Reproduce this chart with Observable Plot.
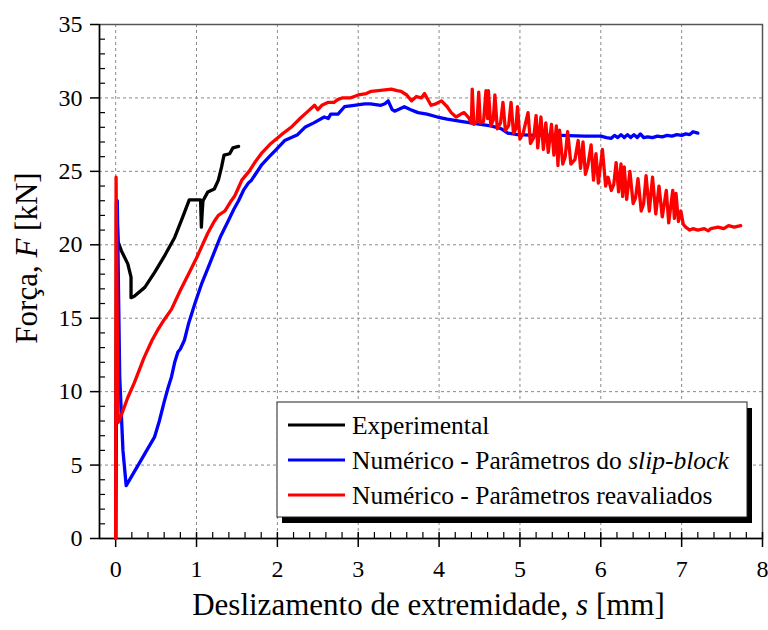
<!DOCTYPE html>
<html>
<head>
<meta charset="utf-8">
<script src="https://cdn.jsdelivr.net/npm/d3@7"></script>
<script src="https://cdn.jsdelivr.net/npm/@observablehq/plot@0.6"></script>
<style>
  html, body { margin: 0; padding: 0; background: white; }
  #chart { width: 768px; height: 630px; }
  #chart svg, #chart svg text { font-family: "Liberation Serif", "DejaVu Serif", "Times New Roman", Times, serif !important; }
</style>
</head>
<body>
<div id="chart"></div>
<script>
// ---- Data ----
const expS = [0, 0.01, 0.03, 0.07, 0.15, 0.19, 0.19, 0.23, 0.36, 0.48, 0.61, 0.73, 0.83, 0.91, 1.0, 1.05, 1.06, 1.07, 1.08, 1.14, 1.22, 1.27, 1.31, 1.34, 1.41, 1.45, 1.52];
const expF = [0, 22.9, 20.2, 19.6, 18.7, 17.8, 16.4, 16.5, 17.1, 18.1, 19.3, 20.5, 21.9, 23.06, 23.06, 23.06, 21.2, 22.2, 23.0, 23.6, 23.8, 24.4, 25.3, 26.1, 26.2, 26.6, 26.7];

const blueS = [0, 0.02, 0.05, 0.09, 0.13, 0.3, 0.48, 0.54, 0.6, 0.65, 0.69, 0.73, 0.77, 0.8, 0.85, 0.9, 0.98, 1.06, 1.14, 1.22, 1.3, 1.39, 1.46, 1.52, 1.58, 1.64, 1.68, 1.8, 1.9, 1.97, 2.09, 2.25, 2.34, 2.45, 2.58, 2.63, 2.66, 2.75, 2.83, 2.95, 3.08, 3.15, 3.28, 3.33, 3.37, 3.42, 3.45, 3.57, 3.65, 3.74, 3.85, 3.98, 4.1, 4.27, 4.45, 4.64, 4.77, 4.85, 4.97, 5.2, 5.51, 5.8, 6.0, 6.07, 6.13, 6.17, 6.21, 6.25, 6.29, 6.33, 6.37, 6.41, 6.45, 6.49, 6.53, 6.58, 6.64, 6.7, 6.76, 6.82, 6.88, 6.94, 7.0, 7.05, 7.1, 7.14, 7.2];
const blueF = [0, 23.0, 11.0, 6.0, 3.6, 5.2, 6.9, 8.0, 9.3, 10.3, 11.0, 12.0, 12.7, 12.9, 13.5, 14.6, 16.0, 17.3, 18.4, 19.5, 20.6, 21.6, 22.4, 23.0, 23.7, 24.2, 24.4, 25.4, 26.0, 26.4, 27.1, 27.5, 28.0, 28.3, 28.7, 28.6, 28.9, 28.9, 29.4, 29.5, 29.6, 29.6, 29.5, 29.6, 29.8, 29.2, 29.1, 29.4, 29.2, 29.0, 28.9, 28.7, 28.55, 28.4, 28.25, 28.1, 27.9, 27.6, 27.5, 27.45, 27.45, 27.4, 27.4, 27.3, 27.25, 27.45, 27.3, 27.5, 27.3, 27.5, 27.3, 27.5, 27.3, 27.55, 27.3, 27.35, 27.3, 27.4, 27.35, 27.45, 27.4, 27.5, 27.45, 27.55, 27.5, 27.7, 27.6];

const redS = [0, 0.005, 0.03, 0.07, 0.15, 0.23, 0.35, 0.45, 0.52, 0.6, 0.69, 0.8, 0.9, 1.0, 1.14, 1.22, 1.27, 1.35, 1.43, 1.47, 1.52, 1.56, 1.65, 1.72, 1.8, 1.92, 2.05, 2.17, 2.28, 2.38, 2.46, 2.5, 2.55, 2.63, 2.7, 2.75, 2.8, 2.9, 3.0, 3.1, 3.16, 3.25, 3.41, 3.48, 3.53, 3.6, 3.66, 3.72, 3.78, 3.82, 3.9, 3.96, 4.03, 4.1, 4.15, 4.21,
  4.27, 4.31, 4.36, 4.40, 4.41, 4.43, 4.47, 4.49, 4.51, 4.55, 4.58, 4.60, 4.61, 4.64, 4.67, 4.69, 4.72, 4.76, 4.79, 4.82, 4.86, 4.89, 4.92, 4.95, 4.97, 5.00, 5.04, 5.10, 5.13, 5.17, 5.20, 5.22, 5.26, 5.29, 5.32, 5.35, 5.39, 5.42, 5.45, 5.47, 5.49, 5.53, 5.56, 5.59, 5.63, 5.68, 5.72, 5.75, 5.78, 5.81, 5.84, 5.88, 5.91, 5.94, 5.97, 6.02, 6.06, 6.09, 6.13, 6.16, 6.19, 6.22, 6.25, 6.27, 6.29, 6.32, 6.36, 6.40, 6.43, 6.46, 6.50, 6.53, 6.56, 6.60, 6.64, 6.68, 6.72, 6.76, 6.81, 6.84, 6.89, 6.91, 6.93, 6.96, 6.99, 7.02, 7.05, 7.10, 7.14, 7.20, 7.28, 7.33, 7.36, 7.45, 7.52, 7.58, 7.65, 7.73];
const redF = [0, 24.6, 7.9, 8.4, 9.6, 10.6, 12.3, 13.5, 14.2, 14.9, 15.6, 16.9, 18.0, 19.1, 20.8, 21.6, 22.0, 22.3, 23.0, 23.3, 23.9, 24.4, 25.0, 25.6, 26.2, 26.9, 27.5, 28.0, 28.6, 29.1, 29.5, 29.2, 29.5, 29.7, 29.7, 29.9, 30.0, 30.0, 30.2, 30.3, 30.45, 30.5, 30.6, 30.5, 30.45, 30.2, 29.8, 30.1, 30.0, 30.3, 29.5, 29.6, 29.8, 29.4, 29.0, 28.7,
  28.9, 29.0, 28.7, 28.3, 30.6, 28.2, 28.4, 30.4, 28.3, 28.4, 30.5, 28.6, 30.5, 28.1, 28.5, 30.2, 27.9, 28.3, 29.7, 27.8, 28.1, 29.7, 27.6, 27.9, 29.4, 27.2, 27.6, 29.0, 26.9, 27.3, 28.8, 26.6, 28.7, 26.5, 28.3, 26.3, 28.2, 26.1, 28.1, 25.4, 27.8, 25.5, 26.0, 27.7, 25.5, 25.8, 27.1, 25.2, 27.0, 24.8, 25.4, 26.8, 24.4, 26.2, 24.2, 26.5, 24.0, 24.6, 23.7, 24.1, 25.6, 23.6, 25.5, 23.3, 25.3, 23.1, 25.0, 22.8, 23.2, 24.5, 22.3, 22.8, 24.7, 22.3, 24.6, 22.1, 24.0, 21.9, 23.7, 21.5, 23.7, 21.8, 23.5, 21.6, 22.3, 21.4, 21.2, 21.0, 21.1, 21.0, 21.1, 20.95, 21.1, 21.2, 21.1, 21.3, 21.2, 21.3];

const seriesNames = ["Experimental", "Numérico - Parâmetros do ", "Numérico - Parâmetros reavaliados"];
const seriesColors = ["#000000", "#0000ff", "#ff0000"];

const xTicks = [0, 1, 2, 3, 4, 5, 6, 7, 8];
const yTicks = [0, 5, 10, 15, 20, 25, 30, 35];
const xGrid = [0, 1, 2, 3, 4, 5, 6, 7];
const yGrid = [5, 10, 15, 20, 25, 30];
const xMinor = d3.range(-0.2, 8.0001, 0.2).map(v => +v.toFixed(1)).filter(v => !xTicks.includes(v) && v > -0.15);
const yMinor = d3.range(1, 35, 1).filter(v => v % 5 !== 0);

// ---- Layout ----
const W = 768, H = 630;
const mL = 99, mR = 6, mT = 24, mB = 92;
const plotW = W - mL - mR, plotH = H - mT - mB;
const FONT = "Liberation Serif, DejaVu Serif, Times New Roman, serif";

const toRows = (xs, ys) => xs.map((s, i) => ({s, F: ys[i]}));
const expRows = toRows(expS, expF);
const blueRows = toRows(blueS, blueF);
const redRows = toRows(redS, redF);

const lineOpts = {x: "s", y: "F", strokeWidth: 3.3, strokeLinejoin: "round", strokeLinecap: "round"};

const chart = Plot.plot({
  width: W, height: H,
  marginLeft: mL, marginRight: mR, marginTop: mT, marginBottom: mB,
  x: {domain: [-0.2, 8]},
  y: {domain: [0, 35]},
  style: {fontSize: "24px", background: "white", color: "black", overflow: "visible"},
  marks: [
    Plot.ruleX(xGrid, {stroke: "#8a8a8a", strokeDasharray: "3,3", strokeWidth: 1}),
    Plot.ruleY(yGrid, {stroke: "#8a8a8a", strokeDasharray: "3,3", strokeWidth: 1}),
    Plot.frame({stroke: "#555", strokeWidth: 1.5}),
    Plot.ruleX([-0.2], {stroke: "black", strokeWidth: 1.5}),
    Plot.ruleY([0], {stroke: "black", strokeWidth: 1.5}),
    Plot.tickX(xMinor, {x: d => d, insetTop: plotH - 6, stroke: "black", strokeWidth: 1.2}),
    Plot.tickX(xTicks, {x: d => d, insetTop: plotH - 6, stroke: "black", strokeWidth: 1.5}),
    Plot.tickY(yMinor, {y: d => d, insetRight: plotW - 6, stroke: "black", strokeWidth: 1.2}),
    Plot.axisX({ticks: xTicks, tickSize: 9, tickPadding: 12, label: null, tickFormat: d => String(d), fontSize: 24, strokeWidth: 1.5}),
    Plot.axisY({ticks: yTicks, tickSize: 9, tickPadding: 8, label: null, tickFormat: d => String(d), fontSize: 24, strokeWidth: 1.5}),
    Plot.line(expRows, {...lineOpts, stroke: seriesColors[0]}),
    Plot.line(blueRows, {...lineOpts, stroke: seriesColors[1]}),
    Plot.line(redRows, {...lineOpts, stroke: seriesColors[2]})
  ]
});

document.getElementById("chart").appendChild(chart);

// ---- Titles and legend ----
const svg = d3.select(chart);

svg.append("text")
  .attr("x", mL + plotW / 2 - 2).attr("y", 615)
  .attr("text-anchor", "middle")
  .attr("font-family", FONT).attr("font-size", 31).attr("fill", "black")
  .call(t => {
    t.append("tspan").text("Deslizamento de extremidade, ");
    t.append("tspan").attr("font-style", "italic").text("s");
    t.append("tspan").text(" [mm]");
  });

svg.append("text")
  .attr("transform", "translate(37,258) rotate(-90)")
  .attr("text-anchor", "middle")
  .attr("font-family", FONT).attr("font-size", 31).attr("fill", "black")
  .call(t => {
    t.append("tspan").text("Força, ");
    t.append("tspan").attr("font-style", "italic").text("F");
    t.append("tspan").text(" [kN]");
  });

const lg = svg.append("g").attr("text-anchor", "start");
const bx = 277, by = 402, bw = 470, bh = 115;
lg.append("rect").attr("x", bx + 5).attr("y", by + 6).attr("width", bw).attr("height", bh).attr("fill", "black");
lg.append("rect").attr("x", bx).attr("y", by).attr("width", bw).attr("height", bh).attr("fill", "white").attr("stroke", "#222").attr("stroke-width", 1);
seriesNames.forEach((name, i) => {
  const cy = 425 + i * 35;
  lg.append("line").attr("x1", 288).attr("x2", 345).attr("y1", cy).attr("y2", cy)
    .attr("stroke", seriesColors[i]).attr("stroke-width", 3);
  const t = lg.append("text").attr("x", 352).attr("y", cy + 9)
    .attr("text-anchor", "start")
    .attr("font-family", FONT).attr("font-size", 25.5).attr("fill", "black");
  t.append("tspan").text(name);
  if (i === 1) t.append("tspan").attr("font-style", "italic").text("slip-block");
});
</script>
</body>
</html>
